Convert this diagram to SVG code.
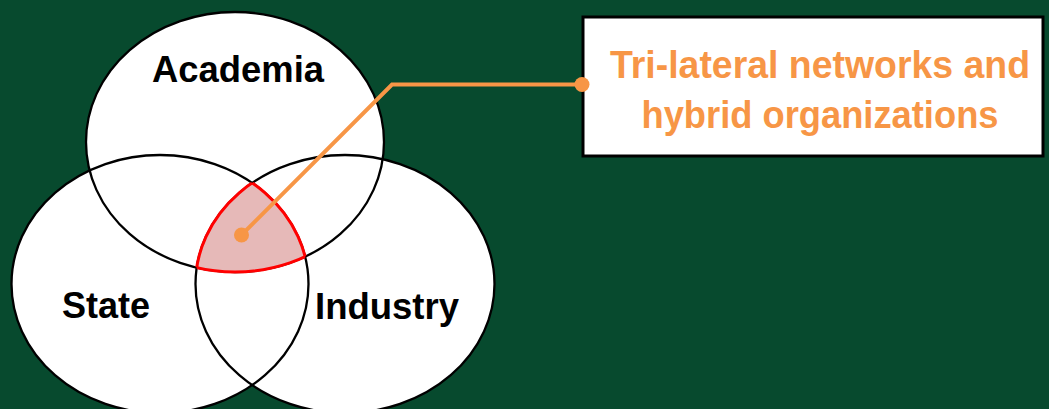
<svg xmlns="http://www.w3.org/2000/svg" xmlns:xlink="http://www.w3.org/1999/xlink" width="1049" height="409" viewBox="0 0 1049 409">
  <style>
    .blob { fill: #ffffff; }
    .outline { fill: none; stroke: #000000; stroke-width: 2.3; }
    .label { font-family: "Liberation Sans", Arial, sans-serif; font-weight: bold; font-size: 36px; fill: #000000; text-anchor: middle; }
    .callout-text { font-family: "Liberation Sans", Arial, sans-serif; font-weight: bold; font-size: 39px; fill: #F79646; text-anchor: middle; }
    .leader { fill: none; stroke: #F79646; stroke-width: 4; stroke-linejoin: miter; }
    .dot { fill: #F79646; }
    .edge { fill: none; stroke: #FF0000; stroke-width: 3; }
  </style>
  <defs>
    <ellipse id="shapeA" cx="235" cy="142" rx="149" ry="130"/>
    <ellipse id="shapeS" cx="160" cy="284" rx="148.5" ry="129"/>
    <ellipse id="shapeI" cx="345" cy="284" rx="149.5" ry="129"/>
    <clipPath id="clipA"><use xlink:href="#shapeA"/></clipPath>
    <clipPath id="clipS"><use xlink:href="#shapeS"/></clipPath>
    <clipPath id="clipI"><use xlink:href="#shapeI"/></clipPath>
  </defs>

  <rect width="1049" height="409" fill="#074A2E"/>

  <!-- three sectors -->
  <g id="academia">
    <use xlink:href="#shapeA" class="blob"/>
    <text class="label" x="238" y="82" textLength="172" lengthAdjust="spacingAndGlyphs">Academia</text>
  </g>
  <g id="state">
    <use xlink:href="#shapeS" class="blob"/>
    <text class="label" x="106" y="318" textLength="88" lengthAdjust="spacingAndGlyphs">State</text>
  </g>
  <g id="industry">
    <use xlink:href="#shapeI" class="blob"/>
    <text class="label" x="387" y="319" textLength="144" lengthAdjust="spacingAndGlyphs">Industry</text>
  </g>

  <!-- sector boundaries -->
  <g id="outlines">
    <use xlink:href="#shapeA" class="outline"/>
    <use xlink:href="#shapeS" class="outline"/>
    <use xlink:href="#shapeI" class="outline"/>
  </g>

  <!-- triple overlap -->
  <g id="overlap">
    <g clip-path="url(#clipS)">
      <g clip-path="url(#clipI)">
        <use xlink:href="#shapeA" fill="#E6B9B8"/>
        <use xlink:href="#shapeA" class="edge"/>
      </g>
    </g>
    <g clip-path="url(#clipA)">
      <g clip-path="url(#clipI)">
        <use xlink:href="#shapeS" class="edge"/>
      </g>
      <g clip-path="url(#clipS)">
        <use xlink:href="#shapeI" class="edge"/>
      </g>
    </g>
  </g>

  <!-- callout box -->
  <g id="callout">
    <rect x="583" y="17" width="460" height="139" fill="#ffffff" stroke="#000000" stroke-width="3"/>
    <text class="callout-text" x="820" y="78" textLength="420" lengthAdjust="spacingAndGlyphs">Tri-lateral networks and</text>
    <text class="callout-text" x="820" y="128" textLength="357" lengthAdjust="spacingAndGlyphs">hybrid organizations</text>
  </g>

  <!-- leader line from overlap to callout -->
  <g id="connectors">
    <polyline class="leader" points="241.5,235 392,84.5 582,84.5"/>
    <circle class="dot" cx="241.5" cy="235" r="7.5"/>
    <circle class="dot" cx="582" cy="84.5" r="7.5"/>
  </g>
</svg>
